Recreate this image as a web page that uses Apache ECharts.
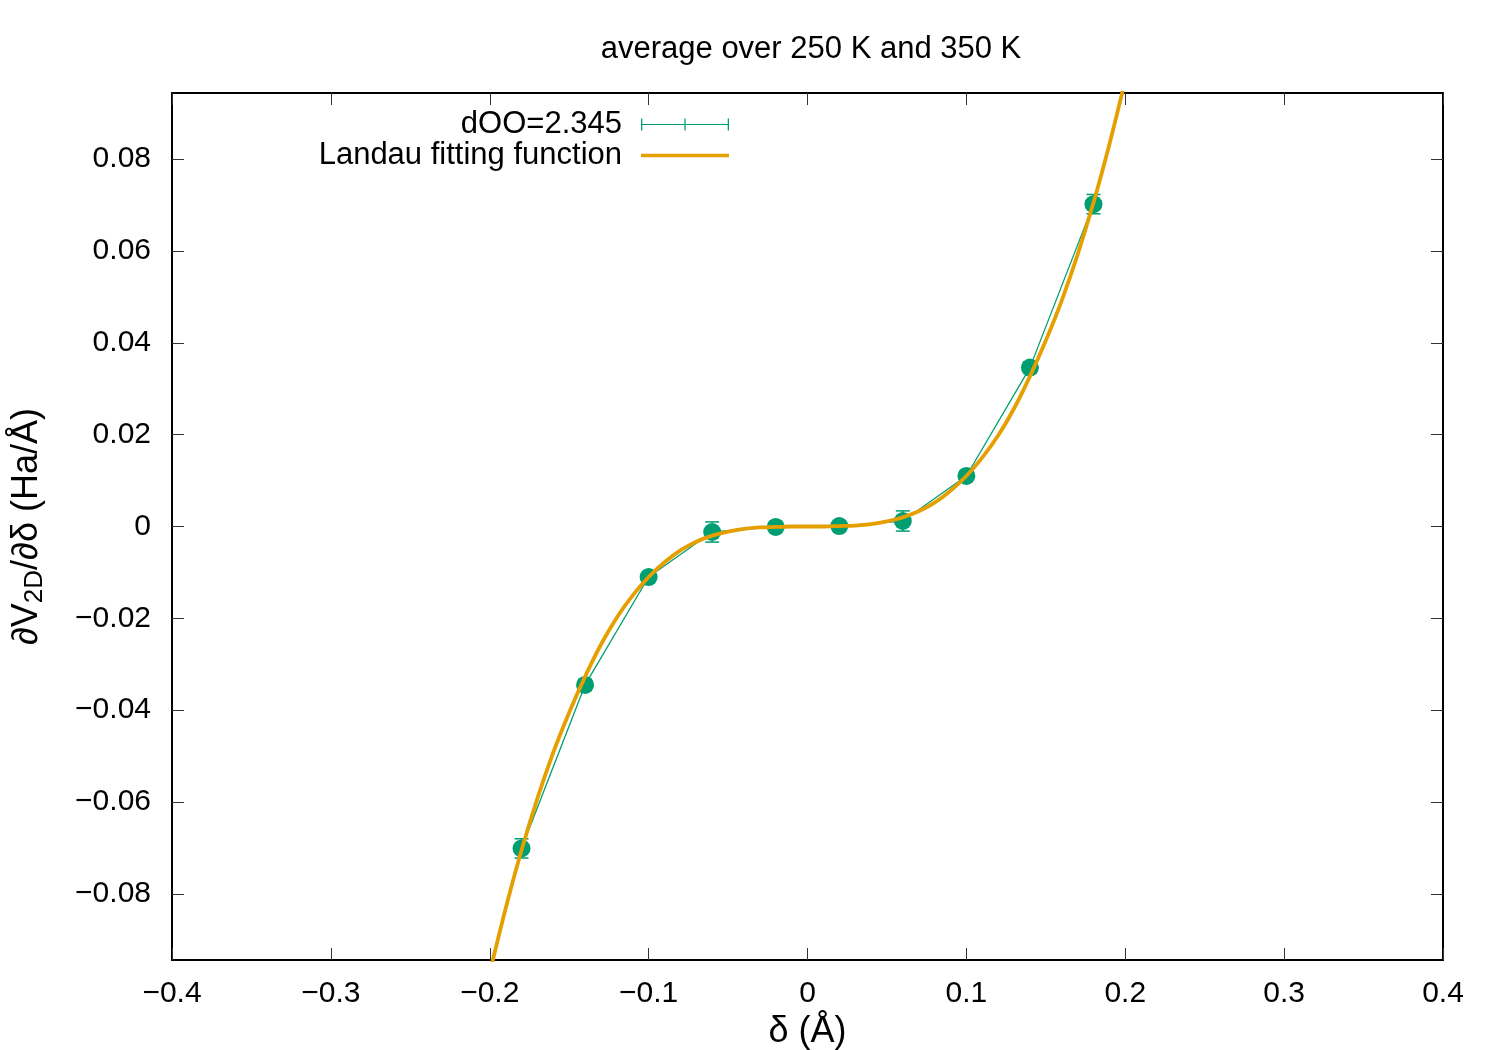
<!DOCTYPE html>
<html>
<head>
<meta charset="utf-8">
<script src="https://cdn.jsdelivr.net/npm/echarts@6/dist/echarts.min.js"></script>
<style>
  html, body { margin: 0; padding: 0; background: #fff; }
  #chart { width: 1500px; height: 1050px; }
</style>
</head>
<body>
<div id="chart"></div>
<script>
// ---- data ----
const titleText = 'average over 250 K and 350 K';
const dataName = 'dOO=2.345';
const fitName = 'Landau fitting function';

const pointX = [-0.18, -0.14, -0.10, -0.06, -0.02, 0.02, 0.06, 0.10, 0.14, 0.18];
const pointY = [-0.0701, -0.0345, -0.0110, -0.0012, -0.0001, 0.0001, 0.0012, 0.0110, 0.0346, 0.0702];
const pointErr = [0.0021, 0.0012, 0.0010, 0.0022, 0.0010, 0.0010, 0.0022, 0.0010, 0.0012, 0.0021];

const curveX = [-0.20, -0.19, -0.18, -0.17, -0.16, -0.15, -0.14, -0.13, -0.12, -0.11, -0.10,
                -0.09, -0.08, -0.07, -0.06, -0.05, -0.04, -0.03, -0.02, -0.01, 0.00,
                 0.01, 0.02, 0.03, 0.04, 0.05, 0.06, 0.07, 0.08, 0.09, 0.10,
                 0.11, 0.12, 0.13, 0.14, 0.15, 0.16, 0.17, 0.18, 0.19, 0.20];
const curveY = [-0.0972, -0.0832, -0.0705, -0.0592, -0.0492, -0.0405, -0.0327, -0.0257, -0.0198, -0.0150, -0.0110,
                -0.0078, -0.0052, -0.0033, -0.0020, -0.0011, -0.0005, -0.0002, -0.0001, 0.0000, 0.0000,
                 0.0000, 0.0001, 0.0002, 0.0005, 0.0011, 0.0020, 0.0033, 0.0052, 0.0078, 0.0110,
                 0.0150, 0.0198, 0.0257, 0.0327, 0.0405, 0.0492, 0.0592, 0.0705, 0.0832, 0.0972];

const xTicks = [-0.4, -0.3, -0.2, -0.1, 0, 0.1, 0.2, 0.3, 0.4];
const yTicks = [-0.08, -0.06, -0.04, -0.02, 0, 0.02, 0.04, 0.06, 0.08];
const xRange = [-0.4, 0.4];
const yRange = [-0.0944, 0.0944];

// ---- styling ----
const FONT = 'Liberation Sans, Arial, sans-serif';
const GREEN = '#009e73';
const ORANGE = '#e69f00';

function fmt(v, d) {
  if (Math.abs(v) < 1e-12) return '0';
  return (v < 0 ? '\u2212' : '') + Math.abs(v).toFixed(d);
}

const points = pointX.map((x, i) => [x, pointY[i]]);
const errData = pointX.map((x, i) => [x, pointY[i], pointErr[i]]);
const curve = curveX.map((x, i) => [x, curveY[i]]);

const tickCommon = { show: true, inside: true, length: 12, lineStyle: { color: '#333', width: 1 } };

const chart = echarts.init(document.getElementById('chart'), null, { renderer: 'canvas' });

const option = {
  backgroundColor: '#fff',
  animation: false,
  title: {
    text: titleText,
    left: 806,
    textAlign: 'center',
    top: 29,
    textStyle: { fontFamily: FONT, fontSize: 31, fontWeight: 'normal', color: '#000' }
  },
  legend: {
    orient: 'vertical',
    right: 766,
    top: 104,
    align: 'right',
    itemWidth: 88,
    itemHeight: 12,
    itemGap: 0,
    textStyle: { fontFamily: FONT, fontSize: 31, color: '#000', padding: [0, 14, 0, 0] },
    data: [
      { name: dataName, icon: 'path://M0,5.4h88v1.2h-88zM0,0h1.3v12h-1.3zM43.35,0h1.3v12h-1.3zM86.7,0h1.3v12h-1.3z', itemStyle: { color: GREEN } },
      { name: fitName, icon: 'path://M0,0h0.01v0.01h-0.01zM0,4.2h88v3.6h-88zM0,11.99h0.01v0.01h-0.01z', itemStyle: { color: ORANGE } }
    ]
  },
  grid: { left: 172, right: 57, top: 93, bottom: 90, containLabel: false, outerBoundsMode: 'none' },
  xAxis: [
    {
      type: 'value', min: xRange[0], max: xRange[1], interval: 0.1,
      name: 'δ (Å)', nameLocation: 'middle', nameGap: 49,
      nameTextStyle: { fontFamily: FONT, fontSize: 36, color: '#000' },
      axisLine: { show: true, onZero: false, lineStyle: { color: '#000', width: 2 } },
      axisTick: Object.assign({}, tickCommon, { customValues: xTicks }),
      axisLabel: { customValues: xTicks, margin: 19, fontFamily: FONT, fontSize: 30, color: '#000', formatter: v => fmt(v, 1) },
      splitLine: { show: false }
    },
    {
      type: 'value', min: xRange[0], max: xRange[1], interval: 0.1, position: 'top',
      axisLine: { show: true, onZero: false, lineStyle: { color: '#000', width: 2 } },
      axisTick: Object.assign({}, tickCommon, { customValues: xTicks }),
      axisLabel: { show: false },
      splitLine: { show: false }
    }
  ],
  yAxis: [
    {
      type: 'value', min: yRange[0], max: yRange[1],
      name: '∂V{sub|2D}/∂δ (Ha/Å)', nameLocation: 'middle', nameGap: 124, nameRotate: 90,
      nameTextStyle: {
        fontFamily: FONT, fontSize: 36, color: '#000',
        rich: { sub: { fontFamily: FONT, fontSize: 26, color: '#000', padding: [15, 0, 0, 0] } }
      },
      axisLine: { show: true, onZero: false, lineStyle: { color: '#000', width: 2 } },
      axisTick: Object.assign({}, tickCommon, { customValues: yTicks }),
      axisLabel: { customValues: yTicks, margin: 21, fontFamily: FONT, fontSize: 30, color: '#000', formatter: v => fmt(v, 2) },
      splitLine: { show: false }
    },
    {
      type: 'value', min: yRange[0], max: yRange[1], position: 'right',
      axisLine: { show: true, onZero: false, lineStyle: { color: '#000', width: 2 } },
      axisTick: Object.assign({}, tickCommon, { customValues: yTicks }),
      axisLabel: { show: false },
      splitLine: { show: false }
    }
  ],
  series: [
    {
      name: dataName, type: 'line', data: points, showSymbol: false, symbol: 'none',
      lineStyle: { color: GREEN, width: 1.3 }, itemStyle: { color: GREEN }, z: 2
    },
    {
      name: dataName, type: 'custom', data: errData, z: 3,
      itemStyle: { color: GREEN },
      renderItem: function (params, api) {
        const x = api.value(0), y = api.value(1), e = api.value(2);
        const top = api.coord([x, y + e]);
        const bot = api.coord([x, y - e]);
        const hw = 7;
        const st = { stroke: GREEN, lineWidth: 1.5 };
        return {
          type: 'group',
          children: [
            { type: 'line', shape: { x1: top[0], y1: top[1], x2: bot[0], y2: bot[1] }, style: st },
            { type: 'line', shape: { x1: top[0] - hw, y1: top[1], x2: top[0] + hw, y2: top[1] }, style: st },
            { type: 'line', shape: { x1: bot[0] - hw, y1: bot[1], x2: bot[0] + hw, y2: bot[1] }, style: st }
          ]
        };
      },
      encode: { x: 0, y: 1 }
    },
    {
      name: dataName, type: 'scatter', data: points, symbol: 'circle', symbolSize: 18,
      itemStyle: { color: GREEN, opacity: 1 }, z: 4
    },
    {
      name: fitName, type: 'line', data: curve, showSymbol: false, symbol: 'none', smooth: 0.3,
      clip: true,
      lineStyle: { color: ORANGE, width: 3.8 }, itemStyle: { color: ORANGE }, z: 5
    }
  ]
};

chart.setOption(option);
</script>
</body>
</html>
